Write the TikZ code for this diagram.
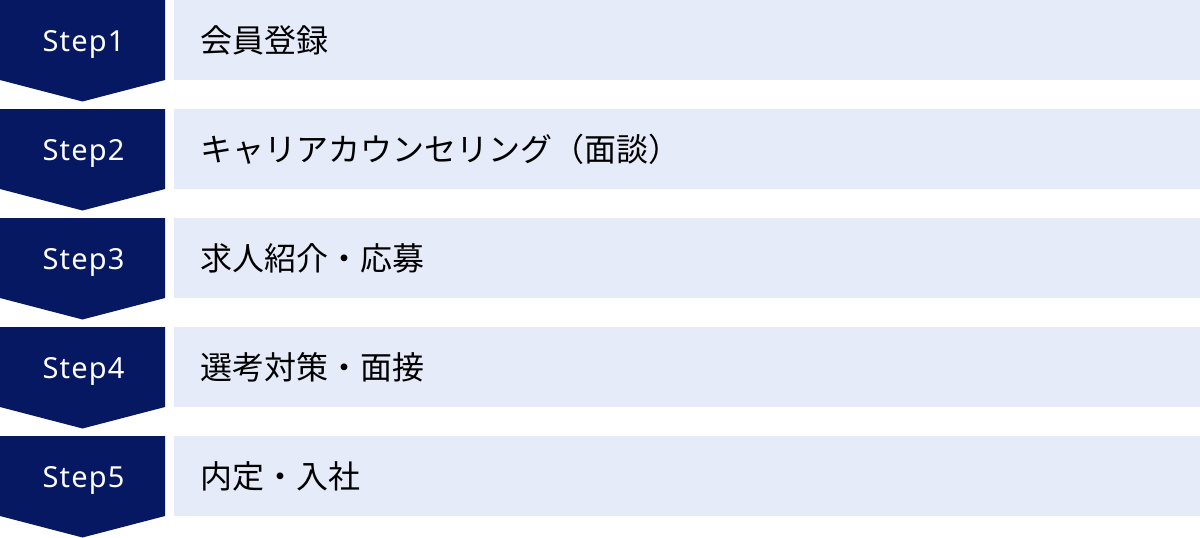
\documentclass[tikz,border=0pt]{standalone}
\usepackage{fontspec}
\setmainfont{Noto Sans CJK JP}
\newfontfamily\steplat[LetterSpace=4]{Noto Sans}
\definecolor{navy}{HTML}{061862}
\definecolor{pale}{HTML}{E5EBF8}
\tikzset{
  steplabel/.style={text=white,font=\steplat\fontsize{29}{29}\selectfont,anchor=base,inner sep=0pt},
  itemtext/.style={text=black,font=\fontsize{32}{32}\selectfont,anchor=west,inner sep=0pt},
}
\begin{document}
\begin{tikzpicture}[x=1pt,y=-1pt]
\useasboundingbox (0,0) rectangle (1200,538);
\fill[white] (0,0) rectangle (1200,538);
\foreach \i/\t in {1/会員登録,2/キャリアカウンセリング（面談）,3/求人紹介・応募,4/選考対策・面接,5/内定・入社}{
  \pgfmathsetmacro{\y}{(\i-1)*109}
  \fill[navy] (0,\y) -- (165,\y) -- (165,\y+80) -- (82.5,\y+101.5) -- (0,\y+80) -- cycle;
  \fill[pale] (174,\y) rectangle (1200,\y+80);
  \node[steplabel] (s\i) at (83.5,\y+51.7) {Step\i};
  \node[itemtext] (t\i) at (200,\y+40) {\t};
}
\end{tikzpicture}
\end{document}
